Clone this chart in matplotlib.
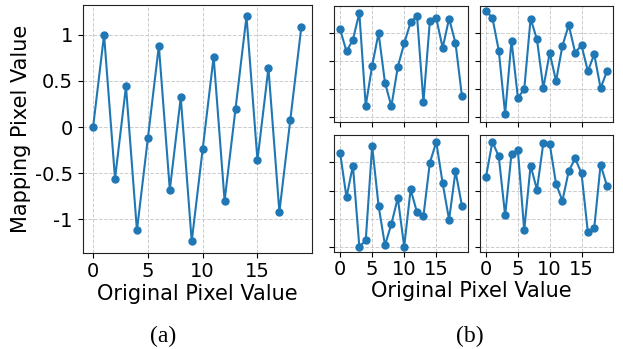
import matplotlib
matplotlib.use("Agg")
import matplotlib.pyplot as plt
import numpy as np

# pixel index 0..19
pixels = np.arange(20)

# (a) mapping curve
mapping_a = [0.0, 1.0, -0.56, 0.44, -1.12, -0.12, 0.88, -0.68, 0.32, -1.24,
             -0.24, 0.76, -0.80, 0.20, 1.20, -0.36, 0.64, -0.92, 0.08, 1.08]

# (b) four mappings (arbitrary units, shared y)
mapping_b1 = [3.13, 2.34, 2.76, 3.71, 0.41, 1.83, 3.00, 1.23, 0.39, 1.79,
              2.63, 3.38, 3.60, 0.54, 3.42, 3.52, 2.47, 3.51, 2.64, 0.76]
mapping_b2 = [3.77, 3.54, 2.37, 0.12, 2.73, 0.70, 0.99, 3.51, 2.77, 1.04,
              2.29, 1.29, 2.54, 3.28, 2.30, 2.56, 1.64, 2.24, 1.04, 1.63]
mapping_b3 = [3.33, 1.76, 2.88, 0.02, 0.24, 3.58, 1.46, 0.07, 0.82, 1.74,
              0.02, 2.04, 1.23, 1.10, 2.98, 3.71, 2.25, 0.97, 2.68, 1.47]
mapping_b4 = [2.49, 3.72, 3.20, 1.12, 3.30, 3.42, 0.60, 2.88, 2.03, 3.67,
              3.65, 2.23, 1.64, 2.69, 3.13, 2.61, 0.53, 0.68, 2.91, 2.17]

a_yticks = [-1, -0.5, 0, 0.5, 1]
a_yticklabels = ['-1', '-0.5', '0', '0.5', '1']
b_yticks = [0, 1, 2, 3]
x_ticks = [0, 5, 10, 15]

W, H = 623, 349
fig = plt.figure(figsize=(W / 100, H / 100), dpi=100)

def style(ax):
    ax.grid(True, linestyle='--', color='#cccccc', linewidth=0.7)
    ax.tick_params(labelsize=14)
    for s in ax.spines.values():
        s.set_color('#222222')

# left panel
ax = fig.add_axes([82.7 / W, 1 - 252.7 / H, 229 / W, 247.7 / H])
ax.plot(pixels, mapping_a, '-o', color='tab:blue', markersize=5, linewidth=1.5)
ax.set_xticks(x_ticks)
ax.set_yticks(a_yticks)
ax.set_yticklabels(a_yticklabels)
ax.set_xlabel('Original Pixel Value', fontsize=15, labelpad=2)
ax.set_ylabel('Mapping Pixel Value', fontsize=15, labelpad=3)
style(ax)

# right 2x2 grid
boxes = [
    [334 / W, 1 - 122 / H, 134 / W, 116 / H],
    [480 / W, 1 - 122 / H, 133 / W, 116 / H],
    [334 / W, 1 - 252 / H, 134 / W, 117 / H],
    [480 / W, 1 - 252 / H, 133 / W, 117 / H],
]
series = [mapping_b1, mapping_b2, mapping_b3, mapping_b4]
first = None
for i, (box, ys) in enumerate(zip(boxes, series)):
    a = fig.add_axes(box, sharex=first, sharey=first)
    if first is None:
        first = a
    a.plot(pixels, ys, '-o', color='tab:blue', markersize=5, linewidth=1.5)
    a.set_xticks(x_ticks)
    a.set_yticks(b_yticks)
    a.tick_params(labelleft=False)
    if i < 2:
        a.tick_params(labelbottom=False)
    style(a)
    a.tick_params(labelsize=14, pad=2)

fig.text(471 / W, 1 - 291 / H, 'Original Pixel Value', fontsize=15,
         ha='center', va='center')

fig.text(163 / W, 1 - 336 / H, '(a)', fontsize=17, family='Liberation Serif',
         ha='center', va='center')
fig.text(470 / W, 1 - 336 / H, '(b)', fontsize=17, family='Liberation Serif',
         ha='center', va='center')

fig.savefig('out.png', dpi=100)
